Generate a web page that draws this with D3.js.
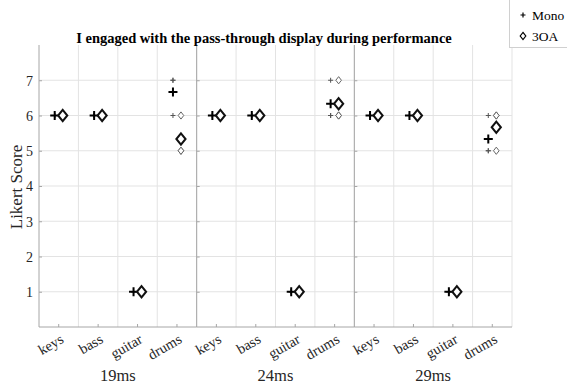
<!DOCTYPE html>
<html><head><meta charset="utf-8">
<script src="https://cdn.jsdelivr.net/npm/d3@7"></script>
<style>body{margin:0;background:#fff}svg{display:block}</style>
</head><body>
<svg id="c" width="567" height="387" font-family="'Liberation Serif', 'Times New Roman', Times, 'DejaVu Serif', serif"></svg>
<script>
const panels = ["19ms", "24ms", "29ms"];
const categories = ["keys", "bass", "guitar", "drums"];
const yTicks = [1, 2, 3, 4, 5, 6, 7];
const seriesNames = ["Mono", "3OA"];
// individual responses per panel, per category
const monoValues = [
  [[6, 6, 6], [6, 6, 6], [1, 1, 1], [7, 7, 6]],
  [[6, 6, 6], [6, 6, 6], [1, 1, 1], [7, 6, 6]],
  [[6, 6, 6], [6, 6, 6], [1, 1, 1], [6, 5, 5]]
];
const oaValues = [
  [[6, 6, 6], [6, 6, 6], [1, 1, 1], [6, 5, 5]],
  [[6, 6, 6], [6, 6, 6], [1, 1, 1], [7, 6, 6]],
  [[6, 6, 6], [6, 6, 6], [1, 1, 1], [6, 6, 5]]
];
const titleText = "I engaged with the pass-through display during performance";

const FONT = "'Liberation Serif', 'Times New Roman', Times, serif";
const svg = d3.select("#c");
const L = 39, R = 512, T = 45, B = 327;
const y = d3.scaleLinear().domain([0, 8]).range([B, T]);
const px = d3.scaleBand().domain(panels).range([L, R]);
const cx = d3.scaleBand().domain(categories).range([0, px.bandwidth()]);

const grid = "#e3e3e3", axisC = "#a6a6a6";

// horizontal gridlines
svg.append("g").selectAll("line").data(yTicks).join("line")
  .attr("x1", L).attr("x2", R).attr("y1", d => y(d)).attr("y2", d => y(d))
  .attr("stroke", grid).attr("stroke-width", 1);

// vertical gridlines at category boundaries
panels.forEach((p, i) => {
  const x0 = px(p);
  const bounds = categories.map(c => x0 + cx(c) + cx.bandwidth());
  svg.append("g").selectAll("line").data(bounds).join("line")
    .attr("x1", d => d).attr("x2", d => d).attr("y1", T).attr("y2", B)
    .attr("stroke", grid).attr("stroke-width", 1);
});

// panel y axes (inward ticks)
panels.forEach((p, i) => {
  const g = svg.append("g").attr("transform", `translate(${px(p)},0)`);
  const ax = d3.axisRight(y).tickValues(yTicks).tickSize(3).tickFormat("");
  g.call(ax);
  g.attr("font-family", FONT);
  g.select(".domain").attr("stroke", axisC).attr("d", `M0,${B}V${T}`);
  g.selectAll(".tick line").attr("stroke", axisC);
  if (i === 0) {
    g.selectAll(".tick").append("text")
      .attr("x", -6).attr("dy", "0.35em").attr("text-anchor", "end")
      .attr("fill", "#262626").attr("font-size", 14).text(d => d);
  }
});

// bottom axis
panels.forEach((p, i) => {
  const sub = d3.scaleBand().domain(categories).range([px(p), px(p) + px.bandwidth()]);
  const g = svg.append("g").attr("transform", `translate(0,${B})`);
  g.call(d3.axisTop(sub).tickSize(3).tickFormat(""));
  g.attr("font-family", FONT);
  g.select(".domain").attr("stroke", axisC).attr("d", `M${px(p)},0H${px(p) + px.bandwidth()}`);
  g.selectAll(".tick line").attr("stroke", axisC);
  g.selectAll(".tick").append("text")
    .attr("text-anchor", "end").attr("fill", "#262626").attr("font-size", 14.5)
    .attr("transform", "translate(6,15) rotate(-30)")
    .text(d => d);
  svg.append("text").attr("x", px(p) + px.bandwidth() / 2).attr("y", 381)
    .attr("text-anchor", "middle").attr("font-size", 16.5).attr("fill", "#262626").text(p);
});

// markers
const plus = (s) => `M${-s},0H${s}M0,${-s}V${s}`;
const diamond = (w, h) => `M0,${-h}L${w},0L0,${h}L${-w},0Z`;
const offM = -4, offO = 4;

panels.forEach((p, i) => {
  categories.forEach((c, j) => {
    const xc = px(p) + cx(c) + cx.bandwidth() / 2;
    const mv = monoValues[i][j], ov = oaValues[i][j];
    mv.forEach(v => svg.append("path").attr("d", plus(2.5))
      .attr("transform", `translate(${xc + offM},${y(v)})`)
      .attr("stroke", "#555").attr("stroke-width", 1).attr("fill", "none"));
    ov.forEach(v => svg.append("path").attr("d", diamond(2.8, 3.6))
      .attr("transform", `translate(${xc + offO},${y(v)})`)
      .attr("stroke", "#666").attr("stroke-width", 1).attr("fill", "#fff"));
    svg.append("path").attr("d", plus(4.5))
      .attr("transform", `translate(${xc + offM},${y(d3.mean(mv))})`)
      .attr("stroke", "#000").attr("stroke-width", 2).attr("fill", "none");
    svg.append("path").attr("d", diamond(4.6, 5.6))
      .attr("transform", `translate(${xc + offO},${y(d3.mean(ov))})`)
      .attr("stroke", "#111").attr("stroke-width", 2).attr("fill", "#fff");
  });
});

// title
svg.append("text").attr("x", 264).attr("y", 43).attr("text-anchor", "middle")
  .attr("font-size", 14.5).attr("font-weight", "bold").attr("fill", "#000").text(titleText);

// y label
svg.append("text").attr("transform", "translate(22,187) rotate(-90)")
  .attr("text-anchor", "middle").attr("font-size", 17).attr("fill", "#262626").text("Likert Score");

// legend
const lg = svg.append("g");
lg.append("rect").attr("x", 509.5).attr("y", -1).attr("width", 70).attr("height", 48.5)
  .attr("fill", "#fff").attr("stroke", "#d0d0d0");
lg.append("path").attr("d", plus(2.5)).attr("transform", "translate(523,15)")
  .attr("stroke", "#000").attr("stroke-width", 1.2).attr("fill", "none");
lg.append("path").attr("d", diamond(2.8, 3.6)).attr("transform", "translate(523,36)")
  .attr("stroke", "#000").attr("stroke-width", 1.2).attr("fill", "#fff");
lg.selectAll("text.lt").data(seriesNames).join("text").attr("class", "lt")
  .attr("x", 532).attr("y", (d, k) => 19.5 + k * 21).attr("font-size", 13.5).attr("fill", "#000").text(d => d);
</script>
</body></html>
